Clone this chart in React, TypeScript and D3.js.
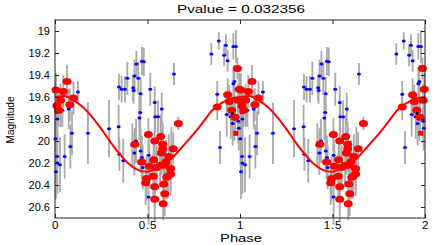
import React, { useRef, useEffect } from 'react';
import * as d3 from 'd3';

const TITLE = 'Pvalue = 0.032356';

// one cycle of folded data, drawn at phase and phase + 1
const bluePhase = [0.009, 0.013, 0.002, 0.011, 0.013, 0.027, 0.005, 0.032, 0.040, 0.052, 0.074, 0.083, 0.092, 0.124, 0.178, 0.292, 0.344, 0.346, 0.360, 0.378, 0.391, 0.348, 0.369, 0.422, 0.425, 0.430, 0.440, 0.450, 0.470, 0.480, 0.463, 0.515, 0.461, 0.456, 0.438, 0.418, 0.429, 0.463, 0.470, 0.474, 0.506, 0.506, 0.539, 0.577, 0.542, 0.557, 0.643, 0.629, 0.845, 0.885, 0.924, 0.914, 0.933, 0.964, 0.978, 0.877, 0.892, 0.964, 0.970, 0.928, 0.950, 0.960, 0.970, 0.990, 0.993];
const blueMag = [19.74, 19.80, 19.98, 20.14, 20.20, 20.215, 20.28, 19.72, 19.72, 20.14, 19.71, 20.05, 19.93, 19.555, 19.93, 19.888, 19.87, 19.51, 19.53, 19.53, 19.43, 20.12, 20.18, 19.515, 19.54, 19.41, 19.30, 19.43, 19.275, 19.28, 19.57, 19.53, 19.74, 19.79, 20.0, 20.04, 20.11, 20.09, 20.15, 20.24, 20.13, 20.51, 19.65, 19.71, 19.78, 19.78, 19.39, 20.07, 19.21, 19.09, 19.13, 19.22, 19.27, 19.14, 19.14, 19.575, 20.06, 19.48, 19.46, 19.76, 19.78, 19.84, 19.80, 19.82, 19.885];
const blueErr = [0.22, 0.2, 0.25, 0.25, 0.28, 0.25, 0.25, 0.15, 0.15, 0.2, 0.18, 0.2, 0.2, 0.1, 0.28, 0.26, 0.2, 0.12, 0.12, 0.12, 0.15, 0.15, 0.2, 0.12, 0.12, 0.15, 0.12, 0.15, 0.13, 0.13, 0.15, 0.15, 0.2, 0.2, 0.2, 0.2, 0.2, 0.2, 0.2, 0.2, 0.2, 0.25, 0.15, 0.15, 0.15, 0.15, 0.1, 0.2, 0.1, 0.08, 0.1, 0.1, 0.1, 0.12, 0.15, 0.12, 0.15, 0.15, 0.15, 0.2, 0.2, 0.2, 0.2, 0.2, 0.2];

const redPhase = [0.005, 0.045, 0.065, 0.030, 0.010, 0.080, 0.100, 0.020, 0.877, 0.933, 0.986, 0.996, 0.942, 0.955, 0.973, 0.990, 0.432, 0.468, 0.495, 0.490, 0.505, 0.510, 0.531, 0.533, 0.539, 0.539, 0.539, 0.550, 0.568, 0.571, 0.575, 0.582, 0.582, 0.585, 0.588, 0.589, 0.593, 0.600, 0.604, 0.611, 0.615, 0.625, 0.625, 0.639, 0.667];
const redMag = [19.536, 19.55, 19.46, 19.63, 19.68, 19.67, 19.61, 19.72, 19.69, 19.58, 19.34, 19.53, 19.64, 19.72, 19.785, 19.63, 20.03, 20.19, 20.34, 20.38, 19.94, 20.23, 20.32, 20.17, 20.0, 20.415, 20.53, 20.24, 20.22, 19.96, 20.11, 20.03, 20.07, 20.57, 20.39, 20.22, 20.48, 20.19, 20.33, 20.32, 20.14, 20.25, 20.30, 20.07, 19.84];
const redErr = [0.15, 0.15, 0.15, 0.15, 0.15, 0.15, 0.15, 0.15, 0.12, 0.15, 0.1, 0.15, 0.15, 0.15, 0.15, 0.15, 0.15, 0.15, 0.2, 0.2, 0.15, 0.2, 0.2, 0.2, 0.2, 0.2, 0.2, 0.2, 0.2, 0.2, 0.2, 0.2, 0.2, 0.15, 0.2, 0.2, 0.2, 0.2, 0.2, 0.2, 0.2, 0.2, 0.2, 0.15, 0.06];

const squarePhase = [0.977];
const squareMag = [19.93];
const blackPhase = [0.958];
const blackMag = [19.75];

const curvePhase = [0, 0.05, 0.1, 0.15, 0.2, 0.25, 0.3, 0.35, 0.4, 0.45, 0.5, 0.55, 0.6, 0.63, 0.65, 0.7, 0.75, 0.8, 0.85, 0.9, 0.95, 1.0];
const curveMag = [19.60, 19.59, 19.63, 19.69, 19.78, 19.89, 20.01, 20.12, 20.21, 20.265, 20.28, 20.245, 20.19, 20.16, 20.125, 20.03, 19.935, 19.83, 19.72, 19.655, 19.615, 19.60];

const xTicks = [0, 0.5, 1, 1.5, 2];
const yTicks = [19, 19.2, 19.4, 19.6, 19.8, 20, 20.2, 20.4, 20.6];

const cycles = [0, 1];
const FONT = '"Liberation Sans", Arial, Helvetica, sans-serif';

const LightCurve = () => {
  const svgRef = useRef<SVGSVGElement | null>(null);

  useEffect(() => {
    if (!svgRef.current) return;
    document.body.style.margin = '0';
    const width = 436;
    const height = 245;
    const margin = { top: 20, right: 11, bottom: 27, left: 55 };

    const svg = d3.select(svgRef.current);
    svg.selectAll('*').remove();
    svg.attr('width', width).attr('height', height).attr('viewBox', [0, 0, width, height].join(' '));

    const x = d3.scaleLinear().domain([0, 2]).range([margin.left, width - margin.right]);
    const y = d3.scaleLinear().domain([18.9, 20.7]).range([margin.top, height - margin.bottom]);

    const fold = (ph: number[], mg: number[], er?: number[]) =>
      cycles.flatMap(k => ph.map((p, i) => ({ p: p + k, m: mg[i], e: er ? er[i] : 0 })));

    const blue = fold(bluePhase, blueMag, blueErr);
    const red = fold(redPhase, redMag, redErr);

    svg.append('rect').attr('width', width).attr('height', height).attr('fill', '#fff');

    // error bars
    svg.append('g')
      .attr('stroke', '#a9a9a9')
      .attr('stroke-width', 1.8)
      .selectAll('line')
      .data([...blue, ...red])
      .join('line')
      .attr('x1', d => x(d.p)).attr('x2', d => x(d.p))
      .attr('y1', d => y(d.m - d.e)).attr('y2', d => y(d.m + d.e));

    svg.append('g')
      .attr('fill', '#0000ff')
      .selectAll('ellipse')
      .data(blue)
      .join('ellipse')
      .attr('cx', d => x(d.p)).attr('cy', d => y(d.m))
      .attr('rx', 2).attr('ry', 1.5);

    svg.append('g')
      .attr('fill', '#ff0000')
      .selectAll('ellipse')
      .data(red)
      .join('ellipse')
      .attr('cx', d => x(d.p)).attr('cy', d => y(d.m))
      .attr('rx', 4.5).attr('ry', 3.5);

    svg.append('g')
      .attr('fill', '#ff0000')
      .selectAll('rect')
      .data(fold(squarePhase, squareMag))
      .join('rect')
      .attr('x', d => x(d.p) - 2.5).attr('y', d => y(d.m) - 2.5)
      .attr('width', 5).attr('height', 5);

    svg.append('g')
      .attr('fill', '#000')
      .selectAll('circle')
      .data(fold(blackPhase, blackMag))
      .join('circle')
      .attr('cx', d => x(d.p)).attr('cy', d => y(d.m))
      .attr('r', 1.5);

    const line = d3.line<{ p: number; m: number }>()
      .x(d => x(d.p))
      .y(d => y(d.m))
      .curve(d3.curveMonotoneX);

    cycles.forEach(k => {
      svg.append('path')
        .datum(curvePhase.map((p, i) => ({ p: p + k, m: curveMag[i] })))
        .attr('fill', 'none')
        .attr('stroke', '#ff0000')
        .attr('stroke-width', 2)
        .attr('d', line);
    });

    // axes, ticks pointing inward on all four sides
    const styleAxis = (g: any) => {
      g.select('.domain').remove();
      g.selectAll('.tick line').attr('stroke', '#222');
      g.selectAll('text').attr('fill', '#000').style('font-family', FONT);
    };

    svg.append('g')
      .attr('transform', `translate(0,${height - margin.bottom})`)
      .call(d3.axisBottom(x).tickValues(xTicks).tickFormat(d => String(d)).tickSizeInner(-4).tickSizeOuter(0).tickPadding(3))
      .call(styleAxis)
      .call(g => g.selectAll('text').style('font-size', '11.5px').style('letter-spacing', '0.8px'));

    svg.append('g')
      .attr('transform', `translate(0,${margin.top})`)
      .call(d3.axisTop(x).tickValues(xTicks).tickFormat(() => '').tickSizeInner(-4).tickSizeOuter(0))
      .call(styleAxis);

    svg.append('g')
      .attr('transform', `translate(${margin.left},0)`)
      .call(d3.axisLeft(y).tickValues(yTicks).tickFormat(d => String(+(+d).toFixed(1))).tickSizeInner(-4).tickSizeOuter(0).tickPadding(5))
      .call(styleAxis)
      .call(g => g.selectAll('text').style('font-size', '11px'));

    svg.append('g')
      .attr('transform', `translate(${width - margin.right},0)`)
      .call(d3.axisRight(y).tickValues(yTicks).tickFormat(() => '').tickSizeInner(-4).tickSizeOuter(0))
      .call(styleAxis);

    svg.append('rect')
      .attr('x', margin.left).attr('y', margin.top)
      .attr('width', width - margin.left - margin.right)
      .attr('height', height - margin.top - margin.bottom)
      .attr('fill', 'none').attr('stroke', '#222').attr('stroke-width', 1);

    svg.append('text')
      .attr('x', 241).attr('y', 13)
      .attr('text-anchor', 'middle')
      .attr('textLength', 128).attr('lengthAdjust', 'spacingAndGlyphs')
      .style('font-family', FONT).style('font-size', '11.5px')
      .text(TITLE);

    svg.append('text')
      .attr('x', 241).attr('y', 242)
      .attr('text-anchor', 'middle')
      .attr('textLength', 42).attr('lengthAdjust', 'spacingAndGlyphs')
      .style('font-family', FONT).style('font-size', '11px')
      .text('Phase');

    svg.append('text')
      .attr('transform', 'translate(14,120) rotate(-90)')
      .attr('text-anchor', 'middle')
      .attr('textLength', 47).attr('lengthAdjust', 'spacingAndGlyphs')
      .style('font-family', FONT).style('font-size', '11px')
      .text('Magnitude');
  }, []);

  return (
    <div style={{ position: 'absolute', left: 0, top: 0, width: 436, height: 245 }}>
      <svg ref={svgRef} style={{ display: 'block' }} />
    </div>
  );
};

export default function App() {
  return <LightCurve />;
}
